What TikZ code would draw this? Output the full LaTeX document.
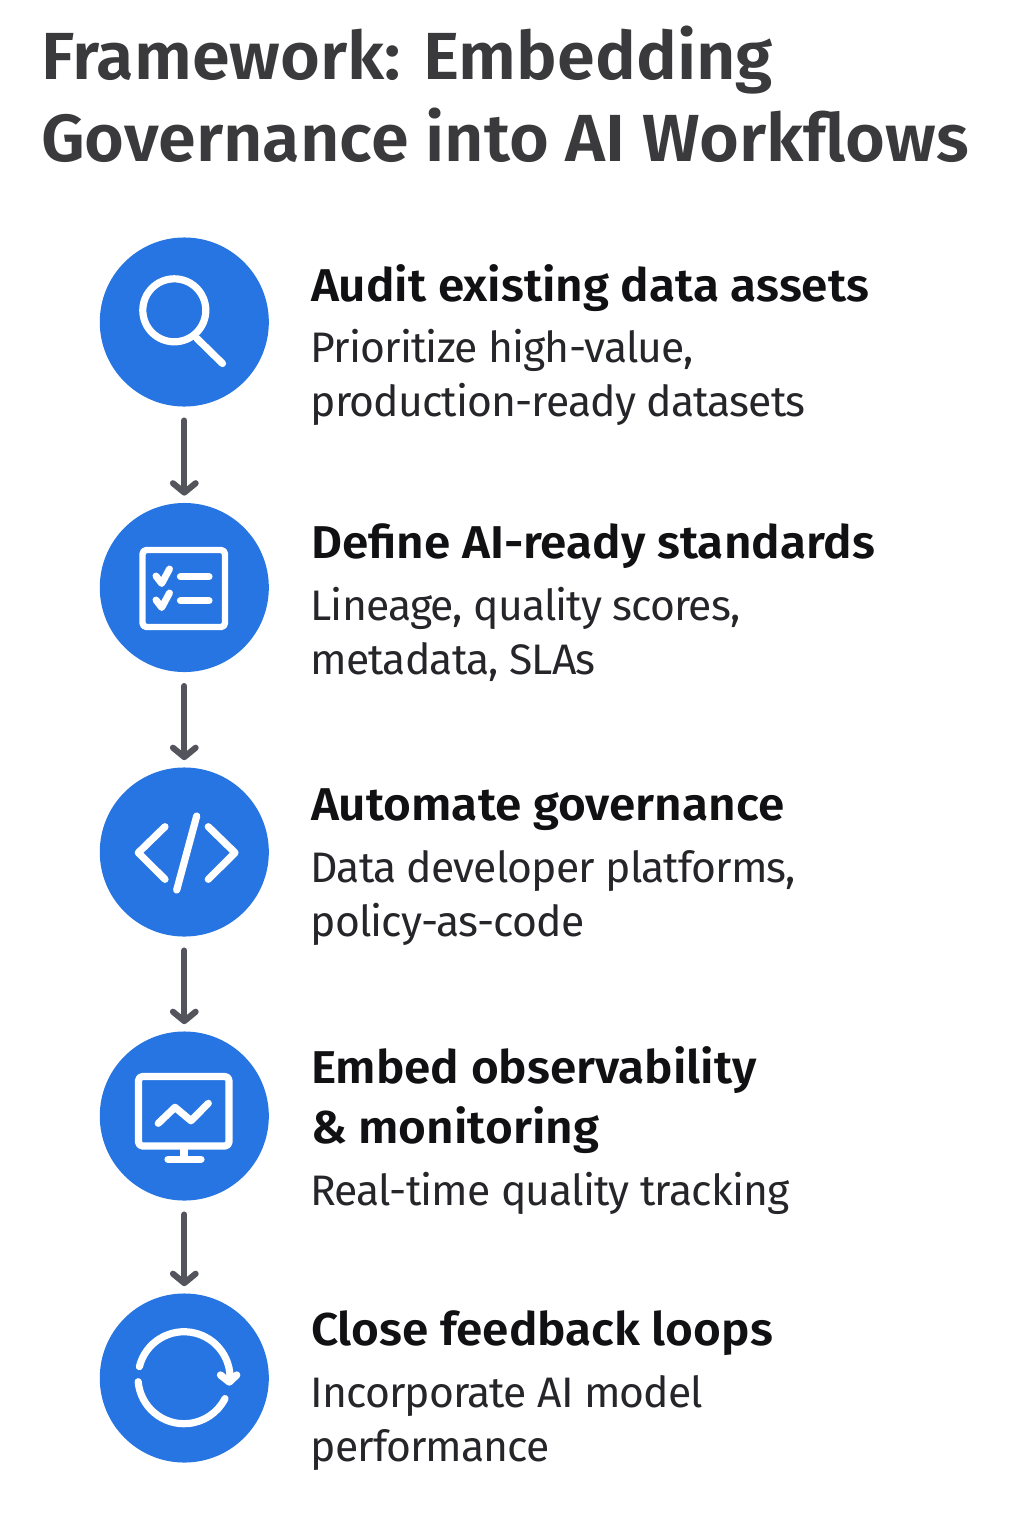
\documentclass[tikz,border=0pt]{standalone}
\usepackage{fontspec}
\setmainfont{Fira Sans}
\newfontfamily\titlefont[FakeStretch=1.025]{Fira Sans SemiBold}
\newfontfamily\headfont[FakeStretch=1.037]{Fira Sans SemiBold}
\newfontfamily\bodyfont[LetterSpace=-2]{Fira Sans}
\usetikzlibrary{arrows.meta}
\definecolor{blueC}{HTML}{2675E3}
\definecolor{arrowC}{HTML}{53545C}
\definecolor{titleC}{HTML}{3A3A3D}
\definecolor{headC}{HTML}{111114}
\definecolor{bodyC}{HTML}{26262A}
\tikzset{
 stepcircle/.style={circle,fill=blueC,draw=none,minimum size=126.8pt,inner sep=0,outer sep=0},
 flowarrow/.style={draw=arrowC,line width=4.6pt,line cap=round,shorten <=10.5pt,shorten >=5.5pt,
   -{Straight Barb[length=7pt,width=17pt,line width=4.6pt,round]}},
 icon/.style={draw=white,line width=5.4pt,line cap=round,line join=round,fill=none},
 titletext/.style={anchor=base west,inner sep=0,outer sep=0,font=\titlefont\fontsize{50}{61.5}\selectfont,text=titleC,align=left},
 headtext/.style={anchor=base west,inner sep=0,outer sep=0,font=\headfont\fontsize{34.5}{44.5}\selectfont,text=headC,align=left},
 bodytext/.style={anchor=base west,inner sep=0,outer sep=0,font=\bodyfont\fontsize{32}{40.5}\selectfont,text=bodyC,align=left},
}
\begin{document}
\begin{tikzpicture}[x=0.75pt,y=-0.75pt]
\useasboundingbox[fill=white] (0,0) rectangle (1024,1536);
\node[titletext] (title) at (41,161) {Framework: Embedding\\Governance into AI Workflows};
\node[stepcircle] (c1) at (184.3,322) {};
\node[stepcircle] (c2) at (184.3,587.5) {};
\node[stepcircle] (c3) at (184.3,852) {};
\node[stepcircle] (c4) at (184.3,1116) {};
\node[stepcircle] (c5) at (184.3,1378) {};
\draw[flowarrow] (c1) -- (c2);
\draw[flowarrow] (c2) -- (c3);
\draw[flowarrow] (c3) -- (c4);
\draw[flowarrow] (c4) -- (c5);
% magnifier
\draw[icon] (174.3,310.3) circle (31.5);
\draw[icon] (197,338.5) -- (222.5,363.5);
% checklist
\draw[icon,rounded corners=3pt,line width=4.8pt] (142.5,550) rectangle (225,627);
\draw[icon] (180.5,576.7) -- (209,576.7);
\draw[icon] (180.5,600.7) -- (209,600.7);
\draw[icon,line width=5.2pt] (156,576) -- (161.7,583.5) -- (169.5,569);
\draw[icon,line width=5.2pt] (156,600) -- (161.7,607.5) -- (169.5,593);
% code
\draw[icon] (165,826.7) -- (138.3,852.7) -- (165,879.3);
\draw[icon] (208.3,826.7) -- (235,852.7) -- (208.3,879.3);
\draw[icon] (196.7,816) -- (176.7,890);
% monitor
\draw[icon,rounded corners=3pt] (138.5,1076.5) rectangle (229,1146);
\draw[icon,line cap=butt] (184,1149) -- (184,1158);
\draw[icon] (168,1159.3) -- (201,1159.3);
\draw[icon] (158.3,1123.3) -- (175,1107.3) -- (191,1120.7) -- (208.3,1103.3);
% loop
\draw[icon] (139.4,1366.6) arc[start angle=-166,end angle=-3,radius=46];
\draw[icon] (138.2,1381.7) arc[start angle=-185,end angle=-333,radius=46];
\draw[icon,line width=5.5pt] (220.5,1375) -- (229.3,1382) -- (236.7,1375);
% texts
\node[headtext] (h1) at (311,301) {Audit existing data assets};
\node[bodytext] (b1) at (310.5,416) {Prioritize high-value,\\production-ready datasets};
\node[headtext] (h2) at (311,558) {Define AI-ready standards};
\node[bodytext] (b2) at (310.5,674) {Lineage, quality scores,\\metadata, SLAs};
\node[headtext] (h3) at (311,820) {Automate governance};
\node[bodytext] (b3) at (310.5,936) {Data developer platforms,\\policy-as-code};
\node[headtext] (h4) at (311,1143) {Embed observability\\\& monitoring};
\node[bodytext] (b4) at (310.5,1205) {Real-time quality tracking};
\node[headtext] (h5) at (311,1345) {Close feedback loops};
\node[bodytext] (b5) at (310.5,1461) {Incorporate AI model\\performance};
\end{tikzpicture}
\end{document}
